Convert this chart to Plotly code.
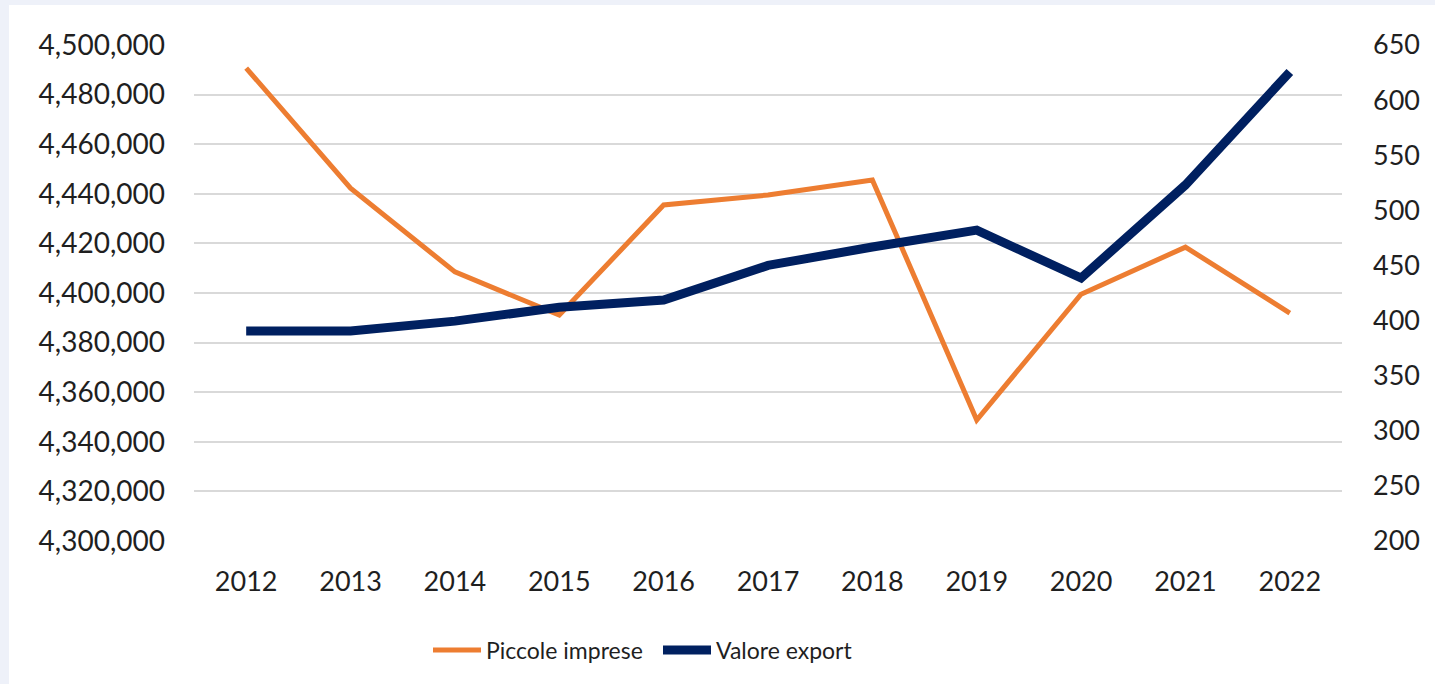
import plotly.graph_objects as go

# ── Data ────────────────────────────────────────────────────
years = ["2012", "2013", "2014", "2015", "2016", "2017",
         "2018", "2019", "2020", "2021", "2022"]
piccole_imprese = [4490700, 4442300, 4408500, 4391100, 4435500, 4439500,
                   4445600, 4348800, 4399500, 4418500, 4391900]
valore_export = [390.5, 390.5, 399.5, 412, 418.6, 450,
                 466.7, 482, 438.6, 523, 625.5]

ORANGE = "#ED7D31"
NAVY = "#002060"
FONT = "Lato"
W, H = 1435, 684
L, R, T, B = 194, 93, 45, 143

fig = go.Figure()
fig.add_trace(go.Scatter(
    x=years, y=piccole_imprese, name="Piccole imprese",
    mode="lines", line=dict(color=ORANGE, width=5),
))
fig.add_trace(go.Scatter(
    x=years, y=valore_export, name="Valore export", yaxis="y2",
    mode="lines", line=dict(color=NAVY, width=9),
))

# light frame on top and left edge of the picture
pw, ph = W - L - R, H - T - B
frame = "#EEF1F9"
fig.add_shape(type="rect", xref="paper", yref="paper", layer="below",
              x0=-L / pw, x1=(9 - L) / pw, y0=-B / ph, y1=1 + T / ph,
              fillcolor=frame, line_width=0)
fig.add_shape(type="rect", xref="paper", yref="paper", layer="below",
              x0=-L / pw, x1=1 + R / pw, y0=1 + (T - 5) / ph, y1=1 + T / ph,
              fillcolor=frame, line_width=0)

fig.update_layout(
    width=W, height=H,
    margin=dict(l=L, r=R, t=T, b=B),
    paper_bgcolor="white", plot_bgcolor="white",
    font=dict(family=FONT, size=27, color="#1F1F1F"),
    showlegend=True,
    legend=dict(orientation="h", x=(428 - L) / pw, xanchor="left",
                y=-(650 - (H - B)) / ph, yanchor="middle",
                font=dict(size=23, color="#1F1F1F"),
                itemwidth=48, entrywidth=167, traceorder="normal"),
    xaxis=dict(type="category", range=[-0.5, 10.5], showgrid=False,
               showline=False, ticks="", ticklabelstandoff=22),
    yaxis=dict(range=[4300000, 4500000], dtick=20000, tickformat=",d",
               showgrid=True, gridcolor="#D9D9D9", gridwidth=1.5,
               zeroline=False, ticks="", ticklabelstandoff=28,
               tickfont=dict(size=28)),
    yaxis2=dict(range=[200, 650], dtick=50, overlaying="y", side="right",
                showgrid=False, zeroline=False, ticks="",
                ticklabelstandoff=30),
)

fig.write_html("out.html", config={"displayModeBar": False},
               post_script="document.body.style.margin='0';")
